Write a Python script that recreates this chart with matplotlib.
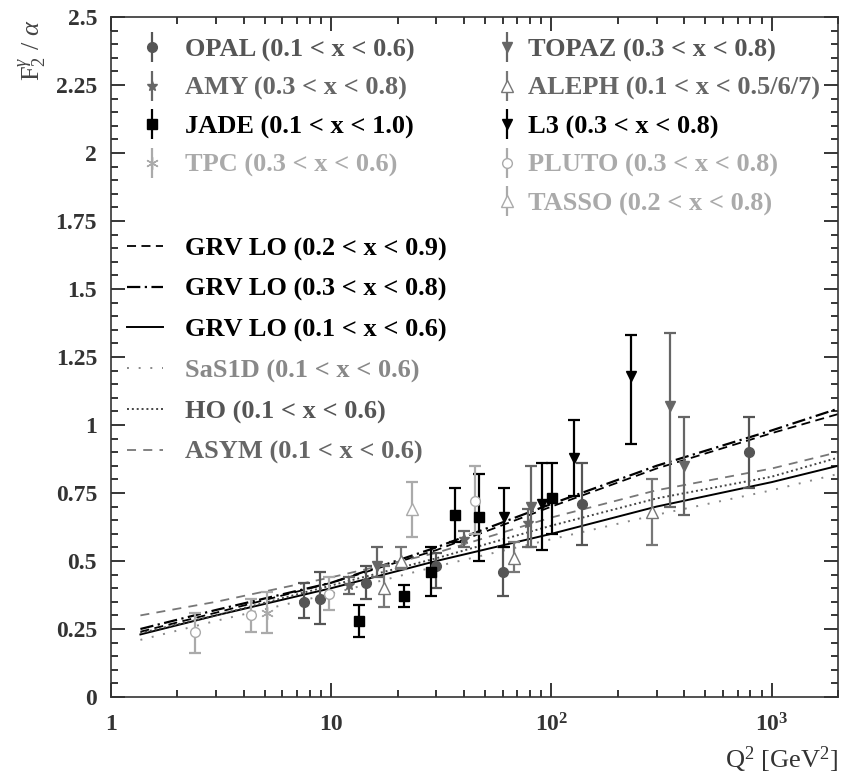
import numpy as np
import matplotlib.pyplot as plt
from matplotlib.ticker import FixedLocator, MultipleLocator, LogLocator, NullFormatter
from matplotlib.lines import Line2D

plt.rcParams['font.family'] = ['Liberation Serif', 'DejaVu Serif']
plt.rcParams['mathtext.fontset'] = 'custom'
plt.rcParams['mathtext.rm'] = 'Liberation Serif'
plt.rcParams['mathtext.it'] = 'Liberation Serif:italic'
plt.rcParams['mathtext.bf'] = 'Liberation Serif:bold'

# --- data points: Q^2, F2/alpha, lower err, upper err ---
opal_q = [7.5, 8.9, 14.4, 30, 60, 137, 790]
opal_f = [0.35, 0.36, 0.42, 0.48, 0.46, 0.71, 0.90]
opal_lo = [0.06, 0.09, 0.06, 0.08, 0.09, 0.15, 0.13]
opal_hi = [0.07, 0.10, 0.06, 0.05, 0.09, 0.15, 0.13]

amy_q = [12, 40, 78]
amy_f = [0.41, 0.58, 0.64]
amy_lo = [0.03, 0.03, 0.09]
amy_hi = [0.03, 0.03, 0.05]

jade_q = [13.3, 21.3, 28.4, 36.6, 47, 101]
jade_f = [0.28, 0.37, 0.46, 0.67, 0.66, 0.73]
jade_lo = [0.06, 0.04, 0.09, 0.10, 0.16, 0.13]
jade_hi = [0.06, 0.04, 0.09, 0.10, 0.16, 0.13]

tpc_q = [5.1]
tpc_f = [0.31]
tpc_lo = [0.075]
tpc_hi = [0.075]

topaz_q = [16.2, 81, 347, 398]
topaz_f = [0.48, 0.70, 1.07, 0.85]
topaz_lo = [0.04, 0.15, 0.37, 0.18]
topaz_hi = [0.07, 0.15, 0.27, 0.18]

aleph_q = [17.3, 20.7, 67.8, 286]
aleph_f = [0.40, 0.50, 0.51, 0.68]
aleph_lo = [0.07, 0.03, 0.05, 0.12]
aleph_hi = [0.08, 0.05, 0.06, 0.12]

l3_q = [61, 91, 127, 230]
l3_f = [0.66, 0.71, 0.88, 1.18]
l3_lo = [0.11, 0.17, 0.14, 0.25]
l3_hi = [0.11, 0.15, 0.14, 0.15]

pluto_q = [2.4, 4.3, 9.8, 45]
pluto_f = [0.24, 0.30, 0.38, 0.72]
pluto_lo = [0.08, 0.06, 0.06, 0.12]
pluto_hi = [0.07, 0.06, 0.06, 0.13]

tasso_q = [23.2]
tasso_f = [0.69]
tasso_lo = [0.10]
tasso_hi = [0.10]

# --- theory curves ---
curve_q = [1.36, 3, 10, 30, 100, 300, 1000, 2000]
grv_29 = [0.24, 0.31, 0.42, 0.54, 0.70, 0.84, 0.97, 1.04]
grv_38 = [0.25, 0.32, 0.42, 0.55, 0.71, 0.85, 0.98, 1.06]
grv_16 = [0.23, 0.30, 0.40, 0.50, 0.60, 0.70, 0.79, 0.85]
sas_16 = [0.21, 0.28, 0.38, 0.48, 0.58, 0.67, 0.76, 0.82]
ho_16 = [0.235, 0.30, 0.41, 0.51, 0.63, 0.73, 0.81, 0.88]
asym_16 = [0.30, 0.35, 0.44, 0.53, 0.66, 0.76, 0.84, 0.90]

y_ticks = [0, 0.25, 0.5, 0.75, 1, 1.25, 1.5, 1.75, 2, 2.25, 2.5]
y_labels = ['0', '0.25', '0.5', '0.75', '1', '1.25', '1.5', '1.75', '2', '2.25', '2.5']
x_ticks = [1, 10, 100, 1000]
x_labels = ['1', '10', r'$\mathbf{10^{2}}$', r'$\mathbf{10^{3}}$']

fig = plt.figure(figsize=(8.43, 7.78), dpi=100)
ax = fig.add_axes([111/843, 81/778, 727/843, 680/778])

ax.plot(curve_q, grv_29, color='black', lw=1.3, ls=(0, (5, 3)))
ax.plot(curve_q, grv_38, color='black', lw=1.6, ls=(0, (6, 2, 1, 2)))
ax.plot(curve_q, grv_16, color='black', lw=1.4, ls='-')
ax.plot(curve_q, sas_16, color='#888888', lw=1.4, ls=(0, (1, 5)))
ax.plot(curve_q, ho_16, color='#444444', lw=1.4, ls=(0, (1, 1.5)))
ax.plot(curve_q, asym_16, color='#777777', lw=1.3, ls=(0, (5, 4)))

series = [
    (opal_q, opal_f, opal_lo, opal_hi, 'o', '#555555', '#555555', 7, 'OPAL (0.1 < x < 0.6)'),
    (amy_q, amy_f, amy_lo, amy_hi, '*', '#666666', '#666666', 7, 'AMY (0.3 < x < 0.8)'),
    (jade_q, jade_f, jade_lo, jade_hi, 's', '#000000', '#000000', 7, 'JADE (0.1 < x < 1.0)'),
    (tpc_q, tpc_f, tpc_lo, tpc_hi, (6, 2, 0), '#aaaaaa', '#aaaaaa', 9, 'TPC (0.3 < x < 0.6)'),
    (topaz_q, topaz_f, topaz_lo, topaz_hi, 'v', '#666666', '#666666', 7, 'TOPAZ (0.3 < x < 0.8)'),
    (aleph_q, aleph_f, aleph_lo, aleph_hi, '^', '#777777', 'white', 8, 'ALEPH (0.1 < x < 0.5/6/7)'),
    (l3_q, l3_f, l3_lo, l3_hi, 'v', '#000000', '#000000', 7, 'L3 (0.3 < x < 0.8)'),
    (pluto_q, pluto_f, pluto_lo, pluto_hi, 'o', '#aaaaaa', 'white', 7, 'PLUTO (0.3 < x < 0.8)'),
    (tasso_q, tasso_f, tasso_lo, tasso_hi, '^', '#aaaaaa', 'white', 8, 'TASSO (0.2 < x < 0.8)'),
]
handles = []
labels = []
for q, f, lo, hi, m, c, fc, ms, lab in series:
    ax.errorbar(q, f, yerr=[lo, hi], ls='none', marker=m, color=c, mfc=fc, mec=c, ms=ms,
                elinewidth=1.6, capsize=4.3, capthick=1.6)
    # legend key: marker with a plain vertical bar, no caps
    bar = Line2D([], [], ls='none', marker='|', ms=22, mew=1.6, color=c)
    mk = Line2D([], [], ls='none', marker=m, ms=ms, color=c, mfc=fc, mec=c)
    handles.append((bar, mk))
    labels.append(lab)

ax.set_xscale('log')
ax.set_xlim(1, 2000)
ax.set_ylim(0, 2.5)
ax.xaxis.set_major_locator(FixedLocator(x_ticks))
ax.set_xticklabels(x_labels)
ax.xaxis.set_minor_locator(LogLocator(base=10, subs=np.arange(2, 10)))
ax.xaxis.set_minor_formatter(NullFormatter())
ax.yaxis.set_major_locator(FixedLocator(y_ticks))
ax.set_yticklabels(y_labels)
ax.yaxis.set_minor_locator(MultipleLocator(0.05))
ax.tick_params(which='both', direction='in', top=True, right=True, width=1.1,
               labelsize=17, labelcolor='#333333')
ax.tick_params(axis='y', pad=10)
ax.tick_params(axis='x', pad=12)
ax.tick_params(which='major', length=10)
ax.tick_params(which='minor', length=5)
for lbl in ax.get_yticklabels() + ax.get_xticklabels():
    lbl.set_fontweight('bold')
for s in ax.spines.values():
    s.set_linewidth(1.2)
    s.set_color('#333333')

fnt = {'family': 'Liberation Serif', 'weight': 'bold', 'size': 19}
leg1 = ax.legend(handles[:4], labels[:4], loc='upper left', bbox_to_anchor=(0.047, 0.969),
                 frameon=False, prop=fnt, handlelength=0.5, handletextpad=1.0,
                 labelspacing=0.55, borderpad=0, borderaxespad=0,
                 labelcolor=['#555555', '#666666', '#000000', '#aaaaaa'])
ax.add_artist(leg1)
leg2 = ax.legend(handles[4:], labels[4:], loc='upper left', bbox_to_anchor=(0.5356, 0.969),
                 frameon=False, prop=fnt, handlelength=0.5, handletextpad=0.545,
                 labelspacing=0.55, borderpad=0, borderaxespad=0,
                 labelcolor=['#555555', '#666666', '#000000', '#aaaaaa', '#aaaaaa'])
ax.add_artist(leg2)

line_handles = [
    Line2D([], [], color='black', lw=1.3, ls=(0, (5, 3))),
    Line2D([], [], color='black', lw=1.6, ls=(0, (6, 2, 1, 2))),
    Line2D([], [], color='black', lw=1.4, ls='-'),
    Line2D([], [], color='#888888', lw=1.4, ls=(0, (1, 5))),
    Line2D([], [], color='#444444', lw=1.4, ls=(0, (1, 1.5))),
    Line2D([], [], color='#777777', lw=1.3, ls=(0, (5, 4))),
]
line_labels = ['GRV LO (0.2 < x < 0.9)', 'GRV LO (0.3 < x < 0.8)', 'GRV LO (0.1 < x < 0.6)',
               'SaS1D (0.1 < x < 0.6)', 'HO (0.1 < x < 0.6)', 'ASYM (0.1 < x < 0.6)']
ax.legend(line_handles, line_labels, loc='upper left', bbox_to_anchor=(0.022, 0.677),
          frameon=False, prop=fnt, handlelength=1.36, handletextpad=0.83,
          labelspacing=0.64, borderpad=0, borderaxespad=0,
          labelcolor=['#000000', '#000000', '#000000', '#888888', '#555555', '#666666'])

fig.text(33/843, 1 - 50/778, r'F$_2^{\gamma}$ / $\alpha$', rotation=90, ha='center',
         va='center', fontsize=19, color='#444444')
fig.text(838/843, 1 - 760/778, r'Q$^2$ [GeV$^2$]', ha='right', va='center', fontsize=19,
         color='#333333')

fig.savefig('out.png', dpi=100)
